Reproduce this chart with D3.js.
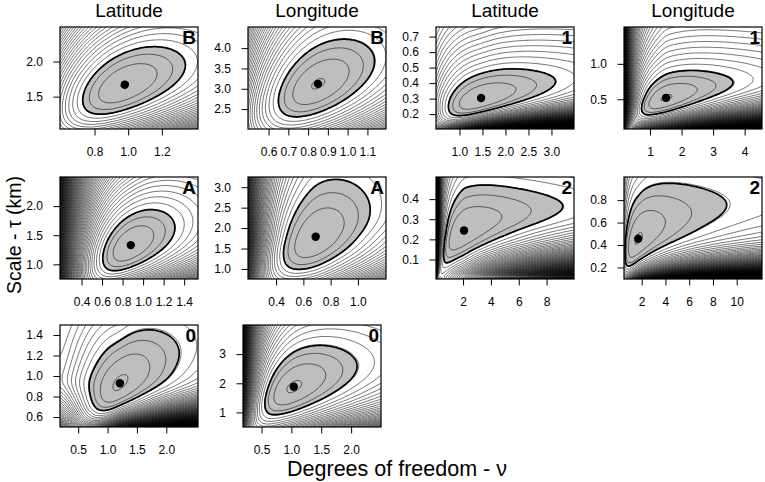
<!DOCTYPE html>
<html>
<head>
<meta charset="utf-8">
<script src="https://cdn.jsdelivr.net/npm/d3@7"></script>
<style>
  body { margin: 0; background: #fff; }
  svg { display: block; }
  text { font-family: "Liberation Sans", Arial, Helvetica, sans-serif; }
</style>
</head>
<body>
<svg id="chart" width="765" height="482"></svg>
<script>
'use strict';

// ---- data ----
const columnTitles = ['Latitude', 'Longitude', 'Latitude', 'Longitude'];
const panelTags = ['B', 'B', '1', '1', 'A', 'A', '2', '2', '0', '0'];

// maximum likelihood estimates (the black dots)
const nuHat  = [0.98, 0.85, 1.47, 1.51, 0.88, 0.69, 2.07, 1.71, 1.21, 1.04];
const tauHat = [1.67, 3.12, 0.304, 0.52, 1.33, 1.79, 0.244, 0.456, 0.93, 1.88];
// extent of the shaded 95% region
const nuRegionMin  = [0.73, 0.65, 0.76, 0.73, 0.607, 0.454, 0.6, 0.59, 0.685, 0.556];
const nuRegionMax  = [1.34, 1.136, 3.09, 3.63, 1.31, 1.09, 9.17, 9.16, 2.22, 2.10];
const tauRegionMin = [1.25, 2.31, 0.19, 0.28, 0.89, 0.99, 0.083, 0.21, 0.664, 0.92];
const tauRegionMax = [2.21, 4.22, 0.492, 0.906, 1.94, 3.19, 0.47, 0.95, 1.45, 3.3];
// fractional offset of the unit-spaced log-likelihood contours
const levelOffset = [0.02, 0.06, 0.02, 0.07, 0.02, 0.02, 0.02, 0.07, 0.12, 0.1];

const xDomains = [[0.595, 1.415], [0.496, 1.194], [0.49, 3.49], [0.175, 4.55],
                  [0.19, 1.535], [0.194, 1.206], [0.056, 9.97], [0.51, 12.13],
                  [0.19, 2.54], [0.19, 2.5]];
const yDomains = [[1.04, 2.49], [2.01, 4.52], [0.104, 0.762], [0.08, 1.52],
                  [0.748, 2.5], [0.755, 3.25], [0.003, 0.51], [0.097, 1.006],
                  [0.503, 1.497], [0.5, 4.0]];

const xTickLabels = [
  ['0.8', '1.0', '1.2'],
  ['0.6', '0.7', '0.8', '0.9', '1.0', '1.1'],
  ['1.0', '1.5', '2.0', '2.5', '3.0'],
  ['1', '2', '3', '4'],
  ['0.4', '0.6', '0.8', '1.0', '1.2', '1.4'],
  ['0.4', '0.6', '0.8', '1.0'],
  ['2', '4', '6', '8'],
  ['2', '4', '6', '8', '10'],
  ['0.5', '1.0', '1.5', '2.0'],
  ['0.5', '1.0', '1.5', '2.0']
];
const yTickLabels = [
  ['1.5', '2.0'],
  ['2.5', '3.0', '3.5', '4.0'],
  ['0.2', '0.3', '0.4', '0.5', '0.6', '0.7'],
  ['0.5', '1.0'],
  ['1.0', '1.5', '2.0'],
  ['1.0', '1.5', '2.0', '2.5', '3.0'],
  ['0.1', '0.2', '0.3', '0.4'],
  ['0.2', '0.4', '0.6', '0.8'],
  ['0.6', '0.8', '1.0', '1.2', '1.4'],
  ['1', '2', '3']
];

// ---- layout ----
const panelLeft = [60, 248, 436, 624, 60, 248, 436, 624, 60, 243];
const rowTop = [27, 177, 325];
const boxW = 138, boxH = 102;
const CHI95 = 2.996;      // qchisq(0.95, 2) / 2
const MAX_LEVELS = 420;

const svg = d3.select('#chart');

// log-gamma (Lanczos)
const LG = [0.99999999999980993, 676.5203681218851, -1259.1392167224028,
  771.32342877765313, -176.61502916214059, 12.507343278686905,
  -0.13857109526572012, 9.9843695780195716e-6, 1.5056327351493116e-7];
function lgamma(z) {
  if (z < 0.5) return Math.log(Math.PI / Math.abs(Math.sin(Math.PI * z))) - lgamma(1 - z);
  z -= 1;
  let a = LG[0];
  const t = z + 7.5;
  for (let i = 1; i < 9; i++) a += LG[i] / (z + i);
  return 0.5 * Math.log(2 * Math.PI) + (z + 0.5) * Math.log(t) - t + Math.log(a);
}

// quadrature nodes for a Student-t(nu0, tau0) population
function makeNodes(nu0, tau0, m) {
  const p = Math.max(1, 2 / nu0);
  const x2 = new Float64Array(m), w = new Float64Array(m);
  let sw = 0;
  for (let j = 0; j < m; j++) {
    const v = (j + 0.5) / m;
    const phi = Math.PI / 2 * Math.pow(v, p);
    const x = Math.sqrt(nu0) * tau0 / Math.tan(phi);
    x2[j] = x * x;
    w[j] = Math.pow(Math.sin(phi), nu0 - 1) * Math.pow(v, p - 1);
    sw += w[j];
  }
  for (let j = 0; j < m; j++) w[j] /= sw;
  return {x2, w};
}

function meanLogLik(nu, tau, nodes) {
  const a = 1 / (nu * tau * tau);
  let s = 0;
  for (let j = 0; j < nodes.x2.length; j++) s += nodes.w[j] * Math.log1p(a * nodes.x2[j]);
  return lgamma((nu + 1) / 2) - lgamma(nu / 2) - 0.5 * Math.log(nu * Math.PI) -
    Math.log(tau) - (nu + 1) / 2 * s;
}

// golden-section minimum of f over [lo, hi]
function argmin(f, lo, hi) {
  const g = (Math.sqrt(5) - 1) / 2;
  for (let i = 0; i < 70; i++) {
    const a = hi - g * (hi - lo), b = lo + g * (hi - lo);
    if (f(a) < f(b)) hi = b; else lo = a;
  }
  return (lo + hi) / 2;
}

const sigmoid = v => 1 / (1 + Math.exp(-v));
// smooth two-sided exponent: a below the estimate, b above
const twoSided = (l, a, b) => l * (a + (b - a) * sigmoid(l / 0.06));

// likelihood surface: t log-likelihood drop, locally rescaled so the 95% region
// meets the four extents
function makeSurface(k) {
  const nu0 = nuHat[k], tau0 = tauHat[k];
  const nodes = makeNodes(nu0, tau0, 220);
  const Lmax = meanLogLik(nu0, tau0, nodes);
  const drop = (nu, tau) => Math.max(0, Lmax - meanLogLik(nu, tau, nodes));
  const P = {n: 1, bL: 0, bR: 0, gB: 0, gT: 0};
  const delta = (nu, tau) => P.n * drop(nu, tau) *
    Math.exp(twoSided(Math.log(nu / nu0), P.bL, P.bR) + twoSided(Math.log(tau / tau0), P.gB, P.gT));

  const ext = [
    {key: 'bL', nu: nuRegionMin[k]}, {key: 'bR', nu: nuRegionMax[k]},
    {key: 'gB', tau: tauRegionMin[k]}, {key: 'gT', tau: tauRegionMax[k]}
  ];
  const lineMin = e => {
    if (e.nu !== undefined) {
      const lt = argmin(t => delta(e.nu, Math.exp(t)), Math.log(tau0) - 4, Math.log(tau0) + 4);
      return delta(e.nu, Math.exp(lt));
    }
    const ln = argmin(t => delta(Math.exp(t), e.tau), Math.log(nu0) - 3.5, Math.log(nu0) + 3);
    return delta(Math.exp(ln), e.tau);
  };
  // start with a common sample size
  let lsum = 0;
  ext.forEach(e => { lsum += Math.log(CHI95 / lineMin(e)); });
  P.n = Math.exp(lsum / ext.length);
  for (let it = 0; it < 14; it++) {
    ext.forEach(e => {
      const l = e.nu !== undefined ? Math.log(e.nu / nu0) : Math.log(e.tau / tau0);
      const r = Math.log(CHI95 / lineMin(e));
      P[e.key] = Math.max(-7, Math.min(7, P[e.key] + r / l));
    });
  }
  return delta;
}

function drawPanel(k) {
  const row = Math.floor(k / 4);
  const x0 = panelLeft[k], y0 = rowTop[row];
  const x = d3.scaleLinear().domain(xDomains[k]).range([x0, x0 + boxW]);
  const y = d3.scaleLinear().domain(yDomains[k]).range([y0 + boxH, y0]);
  const delta = makeSurface(k);

  // negative log-likelihood drop on a grid a little larger than the box
  const s = 1.5, mg = 3;
  const gw = Math.ceil(boxW / s) + 2 * mg + 1, gh = Math.ceil(boxH / s) + 2 * mg + 1;
  const gx = x0 - mg * s, gy = y0 - mg * s;
  const values = new Float64Array(gw * gh);
  let vmin = Infinity;
  for (let j = 0; j < gh; j++) {
    const tau = Math.max(1e-3, y.invert(gy + j * s));
    for (let i = 0; i < gw; i++) {
      const nu = Math.max(0.01, x.invert(gx + i * s));
      const v = -delta(nu, tau);
      values[i + j * gw] = v;
      if (v < vmin) vmin = v;
    }
  }

  const r1 = v => Math.round(v * 10) / 10;
  const path = d3.geoPath(d3.geoTransform({
    point(px, py) { this.stream.point(r1(gx + (px - 0.5) * s), r1(gy + (py - 0.5) * s)); }
  }));
  const contours = d3.contours().size([gw, gh]);

  const clipId = 'clip' + k;
  svg.append('clipPath').attr('id', clipId)
    .append('rect').attr('x', x0).attr('y', y0).attr('width', boxW).attr('height', boxH);
  const g = svg.append('g').attr('clip-path', `url(#${clipId})`);

  const levels = [];
  const first = -levelOffset[k];
  const count = Math.min(MAX_LEVELS, Math.floor(first - vmin) + 1);
  for (let i = 0; i < count; i++) levels.push(first - i);
  const lowest = levels[levels.length - 1];

  g.append('rect').attr('x', x0).attr('y', y0).attr('width', boxW).attr('height', boxH)
    .attr('fill', '#000');
  g.append('path').attr('d', path(contours.contour(values, lowest - 0.5)))
    .attr('fill', '#fff').attr('fill-rule', 'evenodd');

  const region = contours.contour(values, -CHI95);
  g.append('path').attr('d', path(region))
    .attr('fill', '#bebebe').attr('fill-rule', 'evenodd');

  let d = '';
  levels.forEach(l => { d += path(contours.contour(values, l)) || ''; });
  g.append('path').attr('d', d).attr('fill', 'none')
    .attr('stroke', '#000').attr('stroke-width', 0.55);

  g.append('path').attr('d', path(region)).attr('fill', 'none')
    .attr('stroke', '#000').attr('stroke-width', 1.7).attr('stroke-linejoin', 'round');

  svg.append('circle').attr('cx', x(nuHat[k])).attr('cy', y(tauHat[k])).attr('r', 4.2)
    .attr('fill', '#000');

  svg.append('rect').attr('x', x0).attr('y', y0).attr('width', boxW).attr('height', boxH)
    .attr('fill', 'none').attr('stroke', '#000').attr('stroke-width', 1.2);

  // axes
  const xl = xTickLabels[k], yl = yTickLabels[k];
  const ax = svg.append('g').attr('transform', `translate(0,${y0 + boxH})`)
    .call(d3.axisBottom(x).tickValues(xl.map(Number)).tickFormat((_, i) => xl[i])
      .tickSizeOuter(0).tickSize(6.5).tickPadding(12));
  const ay = svg.append('g').attr('transform', `translate(${x0},0)`)
    .call(d3.axisLeft(y).tickValues(yl.map(Number)).tickFormat((_, i) => yl[i])
      .tickSizeOuter(0).tickSize(6.5).tickPadding(10.5));
  [ax, ay].forEach(a => {
    a.select('.domain').remove();
    a.attr('font-family', null).attr('font-size', 12);
    a.selectAll('line').attr('stroke', '#000').attr('stroke-width', 1);
    a.selectAll('text').attr('fill', '#000');
  });

  svg.append('text').attr('x', x0 + boxW - 2).attr('y', y0 + 16.5)
    .attr('text-anchor', 'end').attr('font-size', 19).attr('font-weight', 'bold')
    .text(panelTags[k]);

  if (row === 0) {
    svg.append('text').attr('x', x0 + boxW / 2).attr('y', 17)
      .attr('text-anchor', 'middle').attr('font-size', 19).text(columnTitles[k]);
  }
}

for (let k = 0; k < panelTags.length; k++) drawPanel(k);

svg.append('text').attr('x', 397).attr('y', 476).attr('text-anchor', 'middle')
  .attr('font-size', 21.5).text('Degrees of freedom - \u03bd');
svg.append('text').attr('transform', 'translate(21,235) rotate(-90)')
  .attr('text-anchor', 'middle').attr('font-size', 19.5).text('Scale - \u03c4 (km)');
</script>
</body>
</html>
